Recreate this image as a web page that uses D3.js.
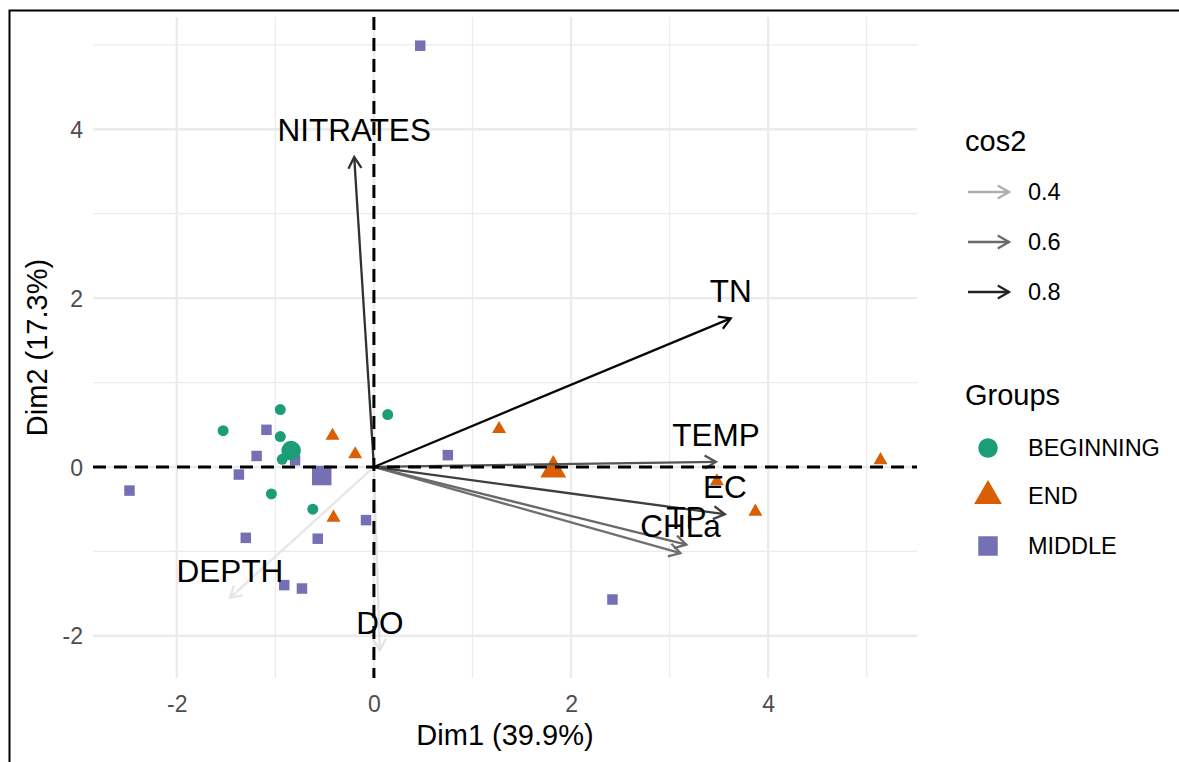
<!DOCTYPE html>
<html>
<head>
<meta charset="utf-8">
<script src="https://cdn.jsdelivr.net/npm/d3@7"></script>
<style>
  html, body { margin: 0; padding: 0; background: #fff; }
  svg { display: block; font-family: "Liberation Sans", Arial, Helvetica, sans-serif; }
</style>
</head>
<body>
<svg id="chart" width="1179" height="762"></svg>
<script>
// PCA biplot: individuals coloured by group, variables as arrows shaded by cos2

const groups = ["BEGINNING", "END", "MIDDLE"];
const groupColors = ["#1B9E77", "#D95F02", "#7570B3"];

const beginningDim1 = [-0.95, -1.53, -0.95, -0.93, -1.04, -0.62, 0.14];
const beginningDim2 = [0.68, 0.43, 0.36, 0.09, -0.32, -0.50, 0.62];

const endDim1 = [-0.42, -0.19, -0.41, 1.27, 3.48, 3.87, 5.14];
const endDim2 = [0.37, 0.15, -0.60, 0.45, -0.17, -0.53, 0.08];

const middleDim1 = [0.47, 0.75, 2.42, -2.48, -1.09, -1.19, -1.37, -0.80, -1.30, -0.57, -0.08, -0.91, -0.73];
const middleDim2 = [4.99, 0.14, -1.57, -0.28, 0.44, 0.13, -0.09, 0.08, -0.84, -0.85, -0.63, -1.40, -1.44];

const variables = ["NITRATES", "TN", "TEMP", "EC", "TP", "CHLa", "DEPTH", "DO"];
const varDim1 = [-0.20, 3.62, 3.47, 3.56, 3.17, 3.11, -1.46, 0.06];
const varDim2 = [3.67, 1.76, 0.06, -0.56, -0.92, -1.02, -1.55, -2.17];
const varCos2 = [0.76, 0.88, 0.66, 0.72, 0.60, 0.58, 0.24, 0.25];

const xTicks = [-2, 0, 2, 4];
const yTicks = [-2, 0, 2, 4];
const xMinor = [-1, 1, 3, 5];
const yMinor = [-1, 1, 3, 5];
const cos2Breaks = [0.4, 0.6, 0.8];

const xTitle = "Dim1 (39.9%)";
const yTitle = "Dim2 (17.3%)";

const svg = d3.select("#chart");

const panel = { left: 93, right: 917, top: 17, bottom: 678 };
const x = d3.scaleLinear().domain([-2.85, 5.51]).range([panel.left, panel.right]);
const y = d3.scaleLinear().domain([-2.50, 5.33]).range([panel.bottom, panel.top]);

const cos2Color = d3.scaleLinear()
  .domain([0.2, 0.9])
  .range(["#f4f4f4", "#000000"])
  .clamp(true);

// outer frame
svg.append("rect")
  .attr("x", 9.5).attr("y", 10.5)
  .attr("width", 1300).attr("height", 900)
  .attr("fill", "none").attr("stroke", "#000").attr("stroke-width", 2);

// grid
const grid = svg.append("g");
grid.selectAll(".vminor").data(xMinor).join("line")
  .attr("x1", d => x(d)).attr("x2", d => x(d))
  .attr("y1", panel.top).attr("y2", panel.bottom)
  .attr("stroke", "#ebebeb").attr("stroke-width", 1.2);
grid.selectAll(".hminor").data(yMinor).join("line")
  .attr("y1", d => y(d)).attr("y2", d => y(d))
  .attr("x1", panel.left).attr("x2", panel.right)
  .attr("stroke", "#ebebeb").attr("stroke-width", 1.2);
grid.selectAll(".vmajor").data(xTicks).join("line")
  .attr("x1", d => x(d)).attr("x2", d => x(d))
  .attr("y1", panel.top).attr("y2", panel.bottom)
  .attr("stroke", "#ebebeb").attr("stroke-width", 2.4);
grid.selectAll(".hmajor").data(yTicks).join("line")
  .attr("y1", d => y(d)).attr("y2", d => y(d))
  .attr("x1", panel.left).attr("x2", panel.right)
  .attr("stroke", "#ebebeb").attr("stroke-width", 2.4);

// axes (tick labels only)
const tickFmt = d => String(d);
const xAxis = d3.axisBottom(x).tickValues(xTicks).tickSize(0).tickPadding(0).tickFormat(tickFmt);
const gx = svg.append("g").attr("transform", `translate(0,${panel.bottom})`).call(xAxis);
gx.select(".domain").remove();
gx.selectAll("text")
  .attr("dy", null).attr("y", 34)
  .attr("font-size", 23).attr("fill", "#4d4d4d")
  .attr("font-family", "Liberation Sans, Arial, sans-serif");

const yAxis = d3.axisLeft(y).tickValues(yTicks).tickSize(0).tickPadding(0).tickFormat(tickFmt);
const gy = svg.append("g").attr("transform", `translate(${panel.left},0)`).call(yAxis);
gy.select(".domain").remove();
gy.selectAll("text")
  .attr("x", -10).attr("dy", "0.35em")
  .attr("font-size", 23).attr("fill", "#4d4d4d")
  .attr("font-family", "Liberation Sans, Arial, sans-serif");

// axis titles
svg.append("text")
  .attr("x", (panel.left + panel.right) / 2).attr("y", 745)
  .attr("text-anchor", "middle").attr("font-size", 29).attr("fill", "#000")
  .text(xTitle);
svg.append("text")
  .attr("transform", `translate(47,${(panel.top + panel.bottom) / 2}) rotate(-90)`)
  .attr("text-anchor", "middle").attr("font-size", 29).attr("fill", "#000")
  .text(yTitle);

// individuals
const symbolTypes = [d3.symbolCircle, d3.symbolTriangle, d3.symbolSquare];
const smallSizes = [95, 85, 110];
const bigSizes = [300, 290, 380];
const groupDim1 = [beginningDim1, endDim1, middleDim1];
const groupDim2 = [beginningDim2, endDim2, middleDim2];

const pts = svg.append("g");
groups.forEach((g, gi) => {
  const data = groupDim1[gi].map((v, i) => [v, groupDim2[gi][i]]);
  pts.selectAll(null).data(data).join("path")
    .attr("transform", d => `translate(${x(d[0])},${y(d[1])})`)
    .attr("d", d3.symbol().type(symbolTypes[gi]).size(smallSizes[gi]))
    .attr("fill", groupColors[gi]);
});
// group mean points
groups.forEach((g, gi) => {
  const mx = d3.mean(groupDim1[gi]);
  const my = d3.mean(groupDim2[gi]);
  pts.append("path")
    .attr("transform", `translate(${x(mx)},${y(my)})`)
    .attr("d", d3.symbol().type(symbolTypes[gi]).size(bigSizes[gi]))
    .attr("fill", groupColors[gi]);
});

// arrow drawing helper
function drawArrow(sel, x0, y0, x1, y1, color, width, headLen) {
  const ang = Math.atan2(y1 - y0, x1 - x0);
  const a = Math.PI / 6;
  const p1 = [x1 - headLen * Math.cos(ang - a), y1 - headLen * Math.sin(ang - a)];
  const p2 = [x1 - headLen * Math.cos(ang + a), y1 - headLen * Math.sin(ang + a)];
  const g = sel.append("g").attr("stroke", color).attr("stroke-width", width)
    .attr("fill", "none").attr("stroke-linecap", "butt").attr("stroke-linejoin", "miter");
  g.append("line").attr("x1", x0).attr("y1", y0).attr("x2", x1).attr("y2", y1);
  g.append("path").attr("d", `M${p1[0]},${p1[1]}L${x1},${y1}L${p2[0]},${p2[1]}`);
}

// variables
const arrows = svg.append("g");
const order = d3.range(variables.length).sort((a, b) => varCos2[a] - varCos2[b]);
order.forEach(i => {
  drawArrow(arrows, x(0), y(0), x(varDim1[i]), y(varDim2[i]), cos2Color(varCos2[i]), 2.3, 13);
});
const labels = svg.append("g");
variables.forEach((v, i) => {
  labels.append("text")
    .attr("x", x(varDim1[i])).attr("y", y(varDim2[i]) - 16)
    .attr("text-anchor", "middle").attr("font-size", 31.5).attr("fill", "#000")
    .text(v);
});

// zero reference lines
svg.append("line")
  .attr("x1", panel.left).attr("x2", panel.right)
  .attr("y1", y(0)).attr("y2", y(0))
  .attr("stroke", "#000").attr("stroke-width", 3).attr("stroke-dasharray", "13,8");
svg.append("line")
  .attr("x1", x(0)).attr("x2", x(0))
  .attr("y1", panel.top).attr("y2", panel.bottom)
  .attr("stroke", "#000").attr("stroke-width", 3).attr("stroke-dasharray", "13,8");

// legend: cos2
const leg = svg.append("g");
leg.append("text").attr("x", 965).attr("y", 151).attr("font-size", 29).text("cos2");
const legArrowY = [192, 242, 292];
cos2Breaks.forEach((b, i) => {
  drawArrow(leg, 968, legArrowY[i], 1009, legArrowY[i], cos2Color(b), 2.3, 13);
  leg.append("text").attr("x", 1028).attr("y", legArrowY[i]).attr("dy", "0.35em")
    .attr("font-size", 23.5).text(d3.format(".1f")(b));
});

// legend: groups
leg.append("text").attr("x", 965).attr("y", 405).attr("font-size", 29).text("Groups");
const legGroupY = [448, 496, 546];
groups.forEach((g, i) => {
  leg.append("path")
    .attr("transform", `translate(988,${legGroupY[i]})`)
    .attr("d", d3.symbol().type(symbolTypes[i]).size(bigSizes[i] * (i === 1 ? 1.15 : 1)))
    .attr("fill", groupColors[i]);
  leg.append("text").attr("x", 1028).attr("y", legGroupY[i]).attr("dy", "0.35em")
    .attr("font-size", 23.5).text(g);
});
</script>
</body>
</html>
